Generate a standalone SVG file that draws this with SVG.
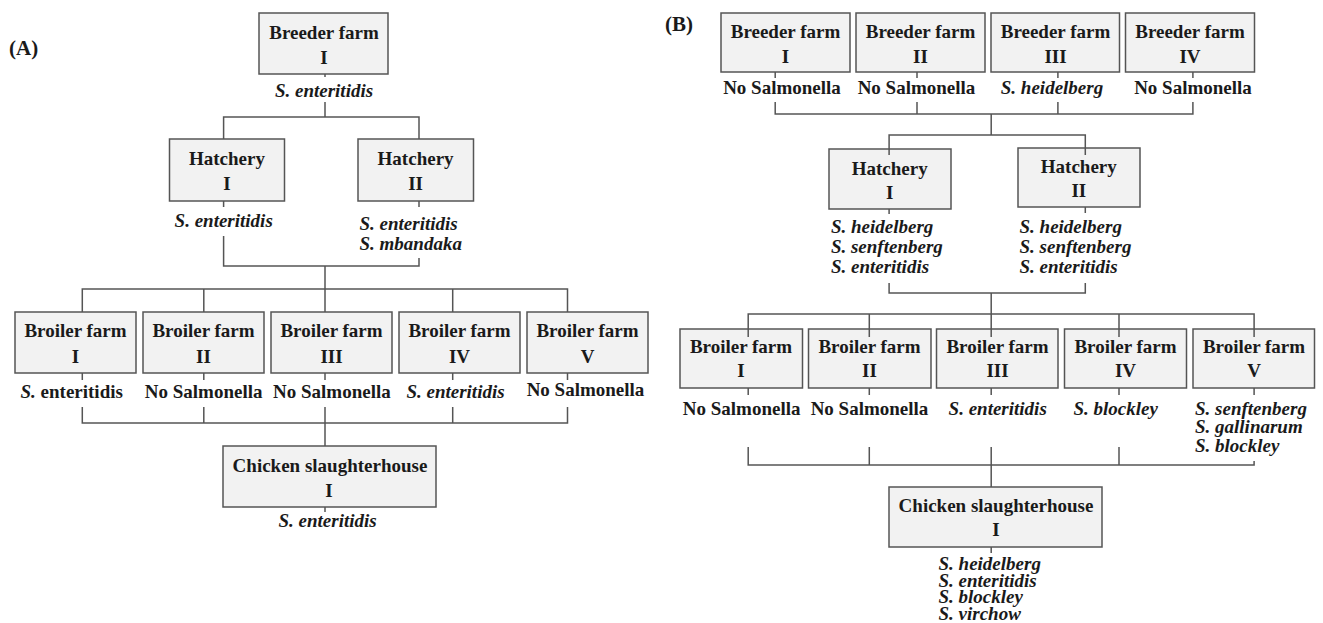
<svg xmlns="http://www.w3.org/2000/svg" width="1323" height="623" viewBox="0 0 1323 623">
<style>
.box{fill:#f2f2f2;stroke:#555;stroke-width:1.5}
.t{font-family:"Liberation Serif","Times New Roman",serif;font-weight:bold;font-size:19px;fill:#1a1a1a}
.c{text-anchor:middle}
.i{font-style:italic}
.p{font-size:21px}
.ln{stroke:#555;stroke-width:1.5;fill:none}
</style>
<rect width="1323" height="623" fill="#fff"/>
<!-- Panel A -->
<text class="t p" x="9" y="55">(A)</text>
<g id="a-breeder1"><rect class="box" x="259" y="13" width="129" height="61"/><text class="t c" x="324" y="39">Breeder farm</text><text class="t c" x="324" y="64">I</text><text class="t c i" x="324" y="97">S. enteritidis</text></g>
<g id="a-hatchery1"><rect class="box" x="169.5" y="139" width="115" height="62"/><text class="t c" x="227" y="165">Hatchery</text><text class="t c" x="227" y="190">I</text><text class="t c i" x="223.7" y="227">S. enteritidis</text></g>
<g id="a-hatchery2"><rect class="box" x="358" y="139" width="115.5" height="62"/><text class="t c" x="415.6" y="165">Hatchery</text><text class="t c" x="415.6" y="190">II</text><text class="t i" x="359.5" y="230">S. enteritidis</text><text class="t i" x="359.5" y="250">S. mbandaka</text></g>
<g id="a-broiler1"><rect class="box" x="15" y="312" width="121" height="61"/><text class="t c" x="75.5" y="337">Broiler farm</text><text class="t c" x="75.5" y="363">I</text><text class="t c" x="71.7" y="398"><tspan class="i">S.</tspan> enteritidis</text></g>
<g id="a-broiler2"><rect class="box" x="143" y="312" width="121" height="61"/><text class="t c" x="203.5" y="337">Broiler farm</text><text class="t c" x="203.5" y="363">II</text><text class="t c" x="203.6" y="398">No Salmonella</text></g>
<g id="a-broiler3"><rect class="box" x="271" y="312" width="121" height="61"/><text class="t c" x="331.5" y="337">Broiler farm</text><text class="t c" x="331.5" y="363">III</text><text class="t c" x="331.9" y="398">No Salmonella</text></g>
<g id="a-broiler4"><rect class="box" x="399" y="312" width="121" height="61"/><text class="t c" x="459.5" y="337">Broiler farm</text><text class="t c" x="459.5" y="363">IV</text><text class="t c i" x="455.5" y="398">S. enteritidis</text></g>
<g id="a-broiler5"><rect class="box" x="527" y="312" width="121" height="61"/><text class="t c" x="587.5" y="337">Broiler farm</text><text class="t c" x="587.5" y="363">V</text><text class="t c" x="585.5" y="396">No Salmonella</text></g>
<g id="a-slaughter"><rect class="box" x="223" y="446" width="213" height="61"/><text class="t c" x="330" y="472">Chicken slaughterhouse</text><text class="t c" x="329" y="497">I</text><text class="t c i" x="327.6" y="527">S. enteritidis</text></g>
<!-- Panel B -->
<text class="t p" x="665" y="31">(B)</text>
<g id="b-breeder1"><rect class="box" x="721" y="13" width="129" height="59"/><text class="t c" x="785.5" y="38">Breeder farm</text><text class="t c" x="785.5" y="63">I</text><text class="t c" x="782" y="94">No Salmonella</text></g>
<g id="b-breeder2"><rect class="box" x="856" y="13" width="129" height="59"/><text class="t c" x="920.5" y="38">Breeder farm</text><text class="t c" x="920.5" y="63">II</text><text class="t c" x="916.5" y="94">No Salmonella</text></g>
<g id="b-breeder3"><rect class="box" x="991" y="13" width="128.5" height="59"/><text class="t c" x="1055.5" y="38">Breeder farm</text><text class="t c" x="1055.5" y="63">III</text><text class="t c i" x="1052" y="94">S. heidelberg</text></g>
<g id="b-breeder4"><rect class="box" x="1125.5" y="13" width="129" height="59"/><text class="t c" x="1190" y="38">Breeder farm</text><text class="t c" x="1190" y="63">IV</text><text class="t c" x="1193" y="94">No Salmonella</text></g>
<g id="b-hatchery1"><rect class="box" x="829" y="149" width="122" height="60"/><text class="t c" x="889.7" y="175">Hatchery</text><text class="t c" x="889.7" y="199">I</text><text class="t i" x="830.9" y="233">S. heidelberg</text><text class="t i" x="830.9" y="253">S. senftenberg</text><text class="t i" x="830.9" y="273">S. enteritidis</text></g>
<g id="b-hatchery2"><rect class="box" x="1018" y="148" width="122" height="59"/><text class="t c" x="1078.8" y="173">Hatchery</text><text class="t c" x="1078.8" y="197">II</text><text class="t i" x="1019.5" y="233">S. heidelberg</text><text class="t i" x="1019.5" y="253">S. senftenberg</text><text class="t i" x="1019.5" y="273">S. enteritidis</text></g>
<g id="b-broiler1"><rect class="box" x="680" y="329" width="122.5" height="59"/><text class="t c" x="741" y="353">Broiler farm</text><text class="t c" x="741" y="377">I</text><text class="t c" x="741.6" y="415">No Salmonella</text></g>
<g id="b-broiler2"><rect class="box" x="808.5" y="329" width="122.5" height="59"/><text class="t c" x="869.5" y="353">Broiler farm</text><text class="t c" x="869.5" y="377">II</text><text class="t c" x="869.5" y="415">No Salmonella</text></g>
<g id="b-broiler3"><rect class="box" x="936.5" y="329" width="121.5" height="59"/><text class="t c" x="997.5" y="353">Broiler farm</text><text class="t c" x="997.5" y="377">III</text><text class="t c i" x="997.7" y="415">S. enteritidis</text></g>
<g id="b-broiler4"><rect class="box" x="1064.5" y="329" width="122" height="59"/><text class="t c" x="1125.5" y="353">Broiler farm</text><text class="t c" x="1125.5" y="377">IV</text><text class="t i" x="1073.5" y="415">S. blockley</text></g>
<g id="b-broiler5"><rect class="box" x="1193" y="329" width="121.5" height="59"/><text class="t c" x="1254" y="353">Broiler farm</text><text class="t c" x="1254" y="377">V</text><text class="t i" x="1195" y="415">S. senftenberg</text><text class="t i" x="1195" y="433">S. gallinarum</text><text class="t i" x="1195" y="452">S. blockley</text></g>
<g id="b-slaughter"><rect class="box" x="889" y="487" width="213" height="60"/><text class="t c" x="996" y="512">Chicken slaughterhouse</text><text class="t c" x="996" y="536">I</text><text class="t i" x="938.5" y="570">S. heidelberg</text><text class="t i" x="938.5" y="587">S. enteritidis</text><text class="t i" x="938.5" y="603">S. blockley</text><text class="t i" x="938.5" y="620">S. virchow</text></g>
<g id="connectors" class="ln">
<path d="M325 74V77M325 102V117M223.6 139V117H419V139M223.6 201V207M419 201V207M223.6 236V266H419V258M325 266V289M82.3 312V289H567.5V312M203.8 289V312M325 289V312M452.7 289V312"/>
<path d="M82.3 373V380M203.8 373V380M325 373V380M452.7 373V380M567.5 373V380M82.3 407V423H567.5V407M203.8 407V423M325 407V446M452.7 407V423M325 507V512"/>
<path d="M775.2 72V78M917 72V78M1057.9 72V78M1192.9 72V78M775.2 102V114H1192.9V102M917 102V114M1057.9 102V114M991.2 114V135M889.1 155V135H1085.3V155M889.1 209V214M1085.3 207V213M889.1 283V293H1085.3V283M991.2 293V314"/>
<path d="M748.2 337V314H1254.1V337M869.3 314V337M991.2 314V337M1119 314V337M748.2 388V395M869.3 388V395M991.2 388V395M1119 388V395M1254.1 388V395M748.2 447V465H1254.1V461M869.3 447V465M991.2 447V487M1119 447V465M991.2 547V553"/>
</g>
</svg>
